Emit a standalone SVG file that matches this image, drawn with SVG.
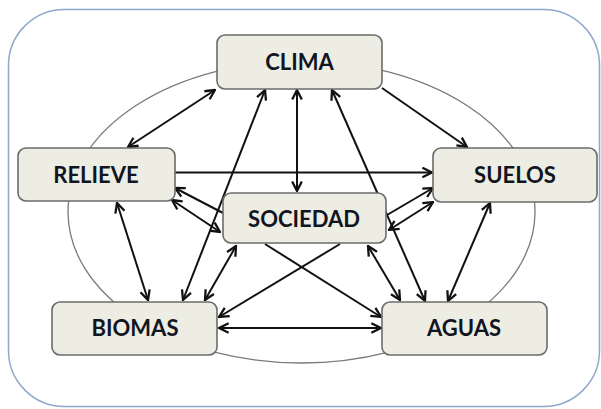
<svg xmlns="http://www.w3.org/2000/svg" width="601" height="409" viewBox="0 0 601 409">
<style>
.node rect{fill:#eeede3;stroke:#6b6b6b;stroke-width:1.6}
.node text{font-family:Lato,"Open Sans","Liberation Sans",sans-serif;font-weight:bold;font-size:22px;fill:#111522;text-anchor:middle}
.conn line{stroke:#111;stroke-width:2;fill:none}
.dbl{marker-start:url(#ah);marker-end:url(#ah)}
.one{marker-end:url(#ah)}
</style>
<defs>
<marker id="ah" viewBox="0 0 10 10" refX="9" refY="5" markerWidth="12" markerHeight="12" markerUnits="userSpaceOnUse" orient="auto-start-reverse">
<path d="M1,1 L9,5 L1,9" fill="none" stroke="#111" stroke-width="1.9"/>
</marker>
</defs>
<rect id="frame" x="8.5" y="9.5" width="591" height="397" rx="56" ry="56" fill="#fff" stroke="#8fa8cc" stroke-width="1.5"/>
<ellipse id="ring" cx="301.5" cy="212" rx="233.5" ry="151" fill="none" stroke="#7a7a7a" stroke-width="1.3"/>
<g id="connectors" class="conn">
<line class="dbl" x1="128" y1="147" x2="215" y2="90"/>
<line class="one" x1="382" y1="88" x2="467" y2="147"/>
<line class="dbl" x1="297" y1="90" x2="297" y2="191"/>
<line class="dbl" x1="265" y1="90" x2="183" y2="300"/>
<line class="dbl" x1="332" y1="90" x2="425" y2="301"/>
<line class="one" x1="175" y1="172.5" x2="432" y2="172.5"/>
<line class="one" x1="223" y1="213" x2="175" y2="188"/>
<line class="dbl" x1="172" y1="200" x2="220" y2="232"/>
<line class="dbl" x1="117" y1="203" x2="148" y2="300"/>
<line class="one" x1="387" y1="215" x2="433" y2="188"/>
<line class="dbl" x1="389" y1="230" x2="433" y2="202"/>
<line class="dbl" x1="236" y1="246" x2="205" y2="300"/>
<line class="dbl" x1="368" y1="246" x2="400" y2="300"/>
<line class="dbl" x1="490" y1="203" x2="448" y2="301"/>
<line class="dbl" x1="219" y1="328" x2="381" y2="328"/>
<line class="one" x1="340" y1="244" x2="219" y2="317"/>
<line class="one" x1="265" y1="244" x2="381" y2="317"/>
</g>
<g id="clima" class="node"><rect x="217" y="35" width="165" height="54" rx="8"/><text x="299.5" y="70">CLIMA</text></g>
<g id="relieve" class="node"><rect x="18" y="148" width="157" height="53" rx="8"/><text x="96" y="182.5">RELIEVE</text></g>
<g id="suelos" class="node"><rect x="433" y="148" width="164" height="54" rx="8"/><text x="515" y="183">SUELOS</text></g>
<g id="sociedad" class="node"><rect x="223" y="193" width="163" height="50" rx="8"/><text x="304" y="226.5">SOCIEDAD</text></g>
<g id="biomas" class="node"><rect x="52" y="302" width="165" height="53" rx="8"/><text x="135" y="336">BIOMAS</text></g>
<g id="aguas" class="node"><rect x="382" y="302" width="165" height="53" rx="8"/><text x="464" y="336">AGUAS</text></g>
</svg>
